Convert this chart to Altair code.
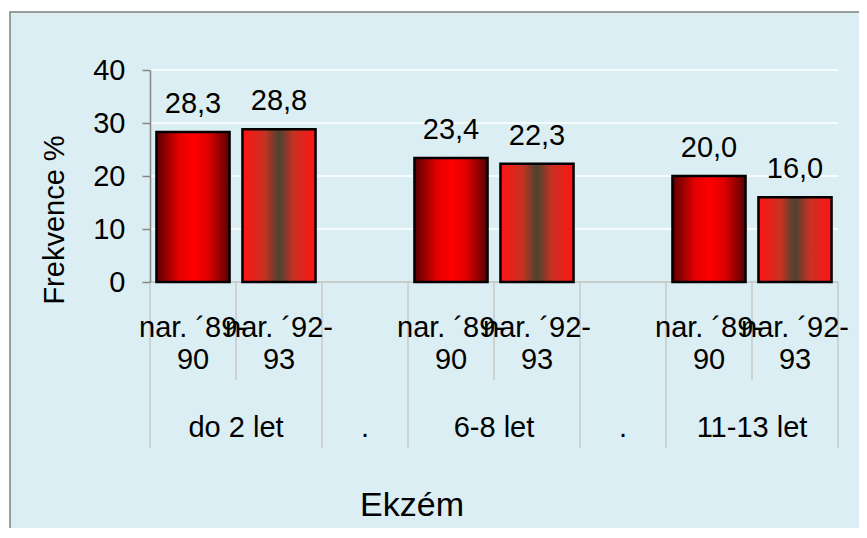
import altair as alt
import pandas as pd

# ---- data ----
groups = ["do 2 let", ".", "6-8 let", ".", "11-13 let"]
series = ["nar. ´89-90", "nar. ´92-93"]
values_89_90 = [28.3, 23.4, 20.0]
values_92_93 = [28.8, 22.3, 16.0]
y_ticks = [0, 10, 20, 30, 40]
grid_values = [10, 20, 30, 40]
y_title = "Frekvence %"
chart_title = "Ekzém"

FONT = "Liberation Sans"
W, H = 688, 212

rows = []
slot = 0
vi = 0
for g in groups:
    if g == ".":
        rows.append(dict(slot=slot, group=g, series="", value=None, kind="spacer"))
        slot += 1
    else:
        rows.append(dict(slot=slot, group=g, series=series[0], value=values_89_90[vi], kind="first"))
        rows.append(dict(slot=slot + 1, group=g, series=series[1], value=values_92_93[vi], kind="second"))
        slot += 2
        vi += 1
df = pd.DataFrame(rows)
n_slots = len(df)

xscale = alt.Scale(domain=list(range(n_slots)), paddingInner=0, paddingOuter=0)
yscale = alt.Scale(domain=[0, 40], nice=False)
yaxis = alt.Axis(values=y_ticks, grid=False, domainColor="#868686", tickColor="#868686",
                 tickSize=8, labelFont=FONT, labelFontSize=29, labelColor="black",
                 labelPadding=17, title=None, zindex=1, domainWidth=1.5, tickWidth=1.5)


def X(band=0.5):
    return alt.X("slot:O", scale=xscale, axis=None, bandPosition=band)


def Y(field="value"):
    return alt.Y(f"{field}:Q", scale=yscale, axis=yaxis)


base = alt.Chart(df)

# background box
bg = alt.Chart(pd.DataFrame({"a": [0]})).mark_rect(
    fill="#DBEEF3", stroke="#7f7f7f", strokeWidth=1.5
).encode(x=alt.value(-140), x2=alt.value(720), y=alt.value(-58), y2=alt.value(470))

# gridlines
grid = alt.Chart(pd.DataFrame({"value": grid_values})).mark_rule(color="white", strokeWidth=1.5).encode(
    y=Y(), x=alt.value(0), x2=alt.value(W)
)

# x baseline
baseline = alt.Chart(pd.DataFrame({"value": [0]})).mark_rule(color="#bfbfbf", strokeWidth=1.5).encode(
    y=Y(), x=alt.value(0), x2=alt.value(W)
)

# category boundary ticks
short_ticks = base.transform_filter("datum.kind == 'second'").mark_rule(
    color="#c8c8c8", strokeWidth=1.5
).encode(x=X(0), y=alt.value(H), y2=alt.value(H + 98))
long_ticks = base.transform_filter("datum.kind != 'second'").mark_rule(
    color="#c8c8c8", strokeWidth=1.5
).encode(x=X(0), y=alt.value(H), y2=alt.value(H + 166))
end_tick = base.transform_filter(f"datum.slot == {n_slots - 1}").mark_rule(
    color="#c8c8c8", strokeWidth=1.5
).encode(x=X(1), y=alt.value(H), y2=alt.value(H + 166))

grad1 = alt.Gradient(
    gradient="linear", x1=0, x2=1, y1=0, y2=0,
    stops=[
        alt.GradientStop(color="#5a0000", offset=0),
        alt.GradientStop(color="#e00000", offset=0.3),
        alt.GradientStop(color="#ff0000", offset=0.5),
        alt.GradientStop(color="#e00000", offset=0.7),
        alt.GradientStop(color="#5a0000", offset=1),
    ],
)
grad2 = alt.Gradient(
    gradient="linear", x1=0, x2=1, y1=0, y2=0,
    stops=[
        alt.GradientStop(color="#ff1414", offset=0),
        alt.GradientStop(color="#c83222", offset=0.3),
        alt.GradientStop(color="#4a4230", offset=0.5),
        alt.GradientStop(color="#c83222", offset=0.7),
        alt.GradientStop(color="#ff1414", offset=1),
    ],
)

bars1 = base.transform_filter("datum.kind == 'first'").mark_bar(
    fill=grad1, stroke="black", strokeWidth=2.5, width=alt.RelativeBandSize(0.85)
).encode(x=X(), y=Y())
bars2 = base.transform_filter("datum.kind == 'second'").mark_bar(
    fill=grad2, stroke="black", strokeWidth=2.5, width=alt.RelativeBandSize(0.85)
).encode(x=X(), y=Y())

value_labels = base.transform_filter("isValid(datum.value)").transform_calculate(
    lbl="replace(format(datum.value, '.1f'), '.', ',')"
).mark_text(font=FONT, fontSize=29, baseline="alphabetic", dy=-19, color="black").encode(
    x=X(), y=Y(), text="lbl:N"
)

series_labels = base.transform_filter("datum.kind != 'spacer'").transform_calculate(
    wrapped="replace(datum.series, '-', '-\\n')"
).mark_text(font=FONT, fontSize=29, baseline="alphabetic", lineBreak="\n", lineHeight=32,
            color="black").encode(x=X(), y=alt.value(267), text="wrapped:N")

pair_labels = base.transform_filter("datum.kind == 'first'").mark_text(
    font=FONT, fontSize=29, baseline="alphabetic", color="black"
).encode(x=X(1), y=alt.value(367), text="group:N")
spacer_labels = base.transform_filter("datum.kind == 'spacer'").mark_text(
    font=FONT, fontSize=29, baseline="alphabetic", color="black"
).encode(x=X(0.5), y=alt.value(367), text="group:N")

ytitle = alt.Chart(pd.DataFrame({"t": [y_title]})).mark_text(
    font=FONT, fontSize=29, angle=270, align="center", baseline="middle", color="black"
).encode(x=alt.value(-95), y=alt.value(150), text="t:N")

title = alt.Chart(pd.DataFrame({"t": [chart_title]})).mark_text(
    font=FONT, fontSize=34, align="center", baseline="middle", color="black"
).encode(x=alt.value(262), y=alt.value(436), text="t:N")

chart = alt.layer(
    bg, grid, baseline, short_ticks, long_ticks, end_tick, bars1, bars2,
    value_labels, series_labels, pair_labels, spacer_labels, ytitle, title
).properties(
    width=W, height=H,
    autosize=alt.AutoSizeParams(type="none"),
    padding={"left": 142, "top": 62, "right": 21, "bottom": 246},
    background="white",
).configure_view(stroke=None)

chart.save("out.html", embed_options={"renderer": "svg", "actions": False})
